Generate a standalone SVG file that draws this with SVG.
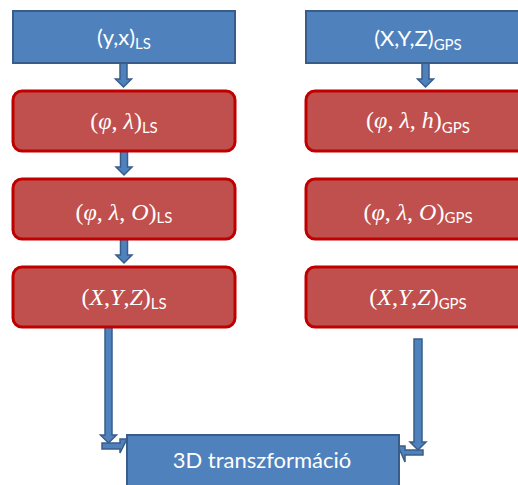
<svg xmlns="http://www.w3.org/2000/svg" width="518" height="485" viewBox="0 0 518 485">
<style>
.blue{fill:#4F81BD;stroke:#385D8A;stroke-width:2}
.red{fill:#C0504D;stroke:#C00000;stroke-width:3}
.arr{fill:#4F81BD;stroke:#385D8A;stroke-width:1.5}
.t{fill:#fff;font-family:Lato,"Open Sans",sans-serif;font-size:22px}
.m{fill:#fff;font-family:"Liberation Serif",serif;font-size:24px}
.i{font-style:italic}
.s{font-family:Lato,"Open Sans",sans-serif;font-size:15px;font-style:normal}
</style>
<rect width="518" height="485" fill="#fff"/>
<g id="connectors">
<path class="arr" d="M120,63H127V79H131.5L123.5,87L115.5,79H120Z"/>
<path class="arr" d="M120.5,151H127.5V167H132L124,175L116,167H120.5Z"/>
<path class="arr" d="M120.5,239H127.5V255H132L124,263L116,255H120.5Z"/>
<path class="arr" d="M422,63H429V79H433.5L425.5,87L417.5,79H422Z"/>
<path class="arr" d="M105,327H112V435H116.5L108.5,443L100.5,435H105Z"/>
<path class="arr" d="M102,443H120V439H127L120,453V449H102Z"/>
<path class="arr" d="M414,339H422V442H426L418,450L410,442H414Z"/>
<path class="arr" d="M423,450H405V446H398L405,462V455H423Z"/>
</g>
<g id="n1">
<rect class="blue" x="13" y="11" width="222" height="52"/>
<text class="t" x="124" y="45" text-anchor="middle">(y,x)<tspan class="s" dy="4">LS</tspan></text>
</g>
<g id="n2">
<rect class="red" x="13" y="91" width="222" height="60" rx="9"/>
<text class="m" x="124" y="129" text-anchor="middle">(<tspan class="i">φ</tspan>, <tspan class="i">λ</tspan>)<tspan class="s" dy="4">LS</tspan></text>
</g>
<g id="n3">
<rect class="red" x="13" y="179" width="222" height="60" rx="9"/>
<text class="m" x="124" y="220" text-anchor="middle">(<tspan class="i">φ</tspan>, <tspan class="i">λ</tspan>, <tspan class="i">O</tspan>)<tspan class="s" dy="3">LS</tspan></text>
</g>
<g id="n4">
<rect class="red" x="13" y="267" width="222" height="60" rx="9"/>
<text class="m" x="124" y="305" text-anchor="middle">(<tspan class="i">X</tspan>,<tspan class="i">Y</tspan>,<tspan class="i">Z</tspan>)<tspan class="s" dy="4">LS</tspan></text>
</g>
<g id="n5">
<rect class="blue" x="306" y="11" width="224" height="52"/>
<text class="t" x="418" y="46" text-anchor="middle">(X,Y,Z)<tspan class="s" dy="4">GPS</tspan></text>
</g>
<g id="n6">
<rect class="red" x="306" y="91" width="224" height="60" rx="9"/>
<text class="m" x="418" y="128" text-anchor="middle">(<tspan class="i">φ</tspan>, <tspan class="i">λ</tspan>, <tspan class="i">h</tspan>)<tspan class="s" dy="5">GPS</tspan></text>
</g>
<g id="n7">
<rect class="red" x="306" y="179" width="224" height="60" rx="9"/>
<text class="m" x="418" y="220" text-anchor="middle">(<tspan class="i">φ</tspan>, <tspan class="i">λ</tspan>, <tspan class="i">O</tspan>)<tspan class="s" dy="3">GPS</tspan></text>
</g>
<g id="n8">
<rect class="red" x="306" y="267" width="224" height="60" rx="9"/>
<text class="m" x="418" y="305" text-anchor="middle">(<tspan class="i">X</tspan>,<tspan class="i">Y</tspan>,<tspan class="i">Z</tspan>)<tspan class="s" dy="4">GPS</tspan></text>
</g>
<g id="n9">
<rect class="blue" x="127" y="435" width="272" height="60"/>
<text class="t" x="262" y="468" text-anchor="middle" font-size="21.5">3D transzformáció</text>
</g>
</svg>
